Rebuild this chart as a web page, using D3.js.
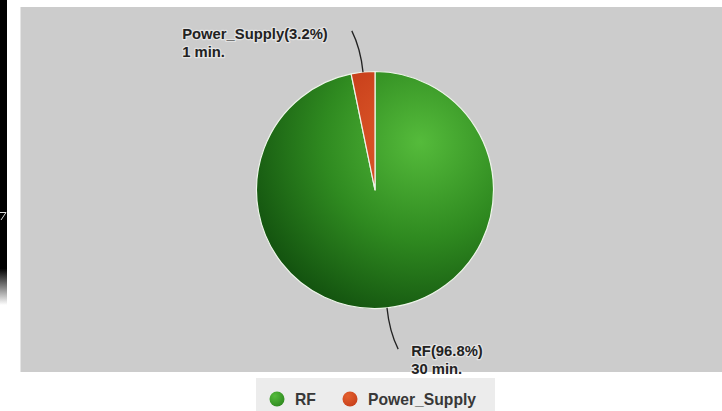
<!DOCTYPE html>
<html><head><meta charset="utf-8">
<script src="https://cdn.jsdelivr.net/npm/d3@7"></script>
<style>html,body{margin:0;padding:0;background:#fff;overflow:hidden}</style>
</head><body><svg id="c" width="722" height="411"></svg>
<script>
// ---- data ----
const categories = ["RF", "Power_Supply"];
const minutes = [30, 1];
const unitLabel = "min.";
// ---- style ----
const lightColors = ["#55bb3b", "#e4602e"];
const midColors = ["#2f8a20", "#c8401b"];
const darkColors = ["#093f09", "#8e2a0c"];

const W = 722, H = 411;
const svg = d3.select("#c");
const defs = svg.append("defs");

// screenshot edge artifact
const eg = defs.append("linearGradient").attr("id","edge").attr("x1",0).attr("y1",0).attr("x2",0).attr("y2",1);
eg.append("stop").attr("offset",0).attr("stop-color","#000");
eg.append("stop").attr("offset",0.88).attr("stop-color","#000");
eg.append("stop").attr("offset",1).attr("stop-color","#fff");
svg.append("rect").attr("x",0).attr("y",0).attr("width",7).attr("height",305).attr("fill","url(#edge)");
svg.append("path").attr("d","M0,212.5H6L1,220").attr("fill","none").attr("stroke","#ddd").attr("stroke-width",1);

// plot background
svg.append("rect").attr("x",20.5).attr("y",7).attr("width",W-20.5).attr("height",365).attr("fill","#cccccc");

const cx = 375, cy = 190, R = 118.5;
const g = svg.append("g").attr("transform",`translate(${cx},${cy})`);

const data = categories.map((c,i)=>({cat:c, v:minutes[i], i}));
const total = d3.sum(minutes);
const pie = d3.pie().sort(null).value(d=>d.v).startAngle(0).endAngle(2*Math.PI);
const arcs = pie(data);
const arc = d3.arc().innerRadius(0).outerRadius(R);

data.forEach((d,i)=>{
  const rg = defs.append("radialGradient").attr("id","sg"+i)
    .attr("gradientUnits","userSpaceOnUse").attr("cx",45).attr("cy",-48).attr("r",215);
  rg.append("stop").attr("offset",0).attr("stop-color",lightColors[i]);
  rg.append("stop").attr("offset",0.45).attr("stop-color",midColors[i]);
  rg.append("stop").attr("offset",1).attr("stop-color",darkColors[i]);
  const lg = defs.append("radialGradient").attr("id","lg"+i)
    .attr("cx",0.35).attr("cy",0.3).attr("r",0.75);
  lg.append("stop").attr("offset",0).attr("stop-color",lightColors[i]);
  lg.append("stop").attr("offset",1).attr("stop-color",midColors[i]);
});

g.selectAll("path.slice").data(arcs).join("path").attr("class","slice")
  .attr("d",arc).attr("fill",d=>`url(#sg${d.data.i})`)
  .attr("stroke","#eef5ea").attr("stroke-width",1.2).attr("stroke-linejoin","round");

// leader lines and labels
const fmt = d3.format(".1f");
arcs.forEach(a=>{
  const m = (a.startAngle + a.endAngle)/2;
  const s = Math.sin(m), c = -Math.cos(m);
  const side = s < 0 ? -1 : 1;
  const p0 = [R*s, R*c];
  const p1 = [1.2*R*s, 1.2*R*c];
  const p2 = [1.35*R*s + side*7, 1.35*R*c];
  g.append("path").attr("d",`M${p0[0]},${p0[1]}Q${p1[0]},${p1[1]} ${p2[0]},${p2[1]}`)
    .attr("fill","none").attr("stroke","#222").attr("stroke-width",1.3);
  const pct = fmt(a.data.v/total*100);
  const lines = [`${a.data.cat}(${pct}%)`, `${a.data.v} ${unitLabel}`];
  const t = g.append("text")
    .attr("font-family","Liberation Sans, Arial, sans-serif").attr("font-weight","bold")
    .attr("font-size","14.8px").attr("fill","#222")
    .attr("stroke","rgba(255,255,255,0.45)").attr("stroke-width",2.5).attr("paint-order","stroke")
    .attr("stroke-linejoin","round");
  lines.forEach((l,k)=>t.append("tspan").attr("x",0).attr("dy",k?18:0).text(l));
  const w = t.node().getBBox().width;
  const tx = side < 0 ? p2[0] - 24 - w : p2[0] + 13;
  const ty = side < 0 ? p2[1] + 8.5 : p2[1] + 6.5;
  t.attr("transform",`translate(${tx},${ty})`);
});

// legend
svg.append("rect").attr("x",256).attr("y",378).attr("width",239).attr("height",40).attr("fill","#ececec");
const legX = [277, 350];
data.forEach((d,i)=>{
  svg.append("circle").attr("cx",legX[i]).attr("cy",399).attr("r",7.5).attr("fill",`url(#lg${i})`);
  svg.append("text").attr("x",legX[i]+18).attr("y",405)
    .attr("font-family","Liberation Sans, Arial, sans-serif").attr("font-weight","bold")
    .attr("font-size","15.7px").attr("fill","#383838").text(d.cat);
});
</script></body></html>
